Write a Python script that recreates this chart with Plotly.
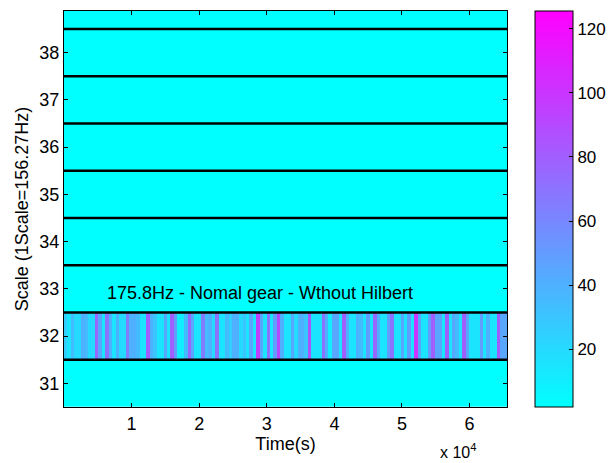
import numpy as np
import plotly.graph_objects as go

# ---- data ----
scales = [31, 32, 33, 34, 35, 36, 37, 38, 39]
time_max = 65536
# coefficient magnitudes for scale 32 (read along time, left to right)
row32 = [25, 15, 35, 20, 20, 40, 35, 20, 20, 75, 45, 15, 70, 40, 15, 40, 20, 20, 65, 40, 40,
         35, 15, 15, 80, 40, 30, 15, 15, 45, 15, 80, 50, 10, 10, 35, 75, 45, 15, 15, 65, 35,
         40, 20, 70, 15, 15, 35, 25, 40, 40, 20, 30, 15, 45, 15, 95, 45, 15, 70, 15, 50, 90, 40,
         15, 15, 45, 20, 40, 40, 30, 85, 15, 15, 15, 70, 40, 10, 45, 45, 15, 80, 40, 15, 15, 40,
         35, 15, 50, 15, 75, 40, 15, 15, 50, 70, 15, 15, 45, 15, 50, 15, 100, 45, 15, 15, 50, 80,
         45, 45, 15, 80, 15, 45, 35, 15, 80, 45, 15, 15, 15, 50, 15, 40, 15, 15, 80, 45, 45]
background_level = 2
cmin, cmax = 1.9, 125.6
xtick_vals = [10000, 20000, 30000, 40000, 50000, 60000]
xtick_text = ["1", "2", "3", "4", "5", "6"]
ytick_vals = [31, 32, 33, 34, 35, 36, 37, 38]
cbar_ticks = [20, 40, 60, 80, 100, 120]

n = len(row32)
x_edges = np.linspace(0, time_max, n + 1)
z = []
for s in scales:
    if s == 32:
        z.append(row32)
    else:
        z.append([background_level] * n)

FONT = "Liberation Sans, Arial, sans-serif"
FS = 18

fig = go.Figure()
fig.add_trace(go.Heatmap(
    x=x_edges, y=scales, z=z, zmin=cmin, zmax=cmax,
    colorscale=[[0, "rgb(0,255,255)"], [1, "rgb(255,0,255)"]],
    zsmooth=False,
    colorbar=dict(
        x=(535 - 64) / 443, xanchor="left", xpad=0, ypad=0,
        thickness=38, thicknessmode="pixels",
        len=1, lenmode="fraction", y=0.5, yanchor="middle",
        outlinewidth=1, outlinecolor="black",
        tickvals=cbar_ticks, ticks="inside", ticklen=4, tickcolor="black",
        tickfont=dict(family=FONT, size=17, color="black"),
    ),
))

for s in scales[:-1]:
    fig.add_shape(type="line", xref="paper", x0=0, x1=1, yref="y",
                  y0=s + 0.5, y1=s + 0.5, line=dict(color="black", width=2.5))

fig.add_annotation(x=6000, y=32.92, xref="x", yref="y", xanchor="left", yanchor="middle",
                   text="175.8Hz - Nomal gear - Wthout Hilbert", showarrow=False,
                   font=dict(family=FONT, size=FS, color="black"))
fig.add_annotation(x=0.935, y=-0.112, xref="paper", yref="paper", xanchor="right", yanchor="middle",
                   text="x 10<sup>4</sup>", showarrow=False,
                   font=dict(family=FONT, size=16, color="black"))

fig.update_xaxes(range=[0, time_max], tickvals=xtick_vals, ticktext=xtick_text,
                 ticks="inside", ticklen=4, tickcolor="black", mirror="ticks",
                 showline=True, linecolor="black", linewidth=1, showgrid=False, zeroline=False,
                 tickfont=dict(family=FONT, size=FS, color="black"),
                 title=dict(text="Time(s)", font=dict(family=FONT, size=FS, color="black"), standoff=3))
fig.update_yaxes(range=[30.5, 38.88], tickvals=ytick_vals,
                 ticks="inside", ticklen=4, tickcolor="black", mirror="ticks",
                 showline=True, linecolor="black", linewidth=1, showgrid=False, zeroline=False,
                 tickfont=dict(family=FONT, size=FS, color="black"),
                 title=dict(text="Scale (1Scale=156.27Hz)", font=dict(family=FONT, size=FS, color="black"), standoff=6))

fig.update_layout(width=609, height=463, margin=dict(l=64, r=102, t=11, b=56, autoexpand=False),
                  paper_bgcolor="white", plot_bgcolor="white", showlegend=False)

fig.write_html("out.html")
